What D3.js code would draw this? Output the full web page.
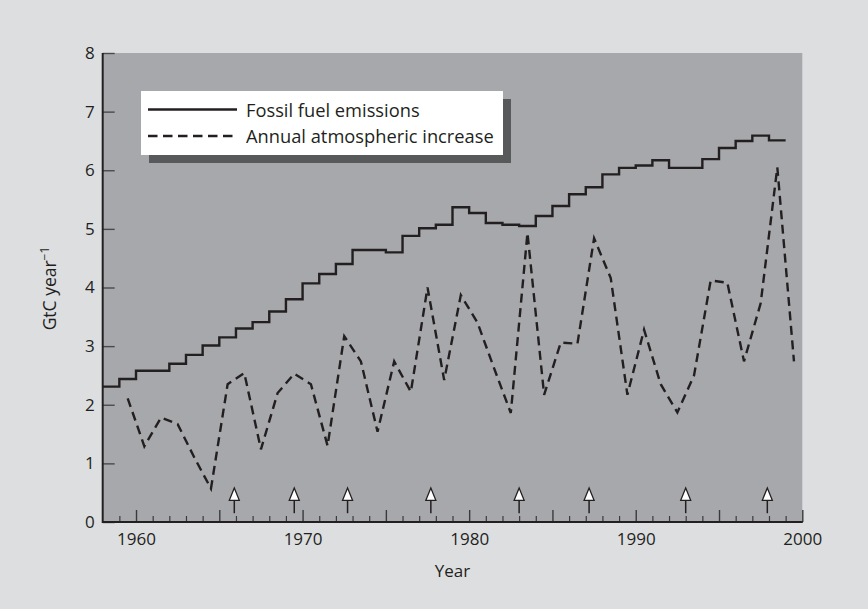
<!DOCTYPE html>
<html>
<head>
<meta charset="utf-8">
<script src="https://cdn.jsdelivr.net/npm/d3@7"></script>
<style>
  html, body { margin: 0; padding: 0; background: #dddee0; }
  svg { display: block; }
  text { font-family: "Open Sans", "Noto Sans", sans-serif; fill: #231f20; }
</style>
</head>
<body>
<svg id="chart" width="868" height="609"></svg>
<script>
// ---- Data ----
const emissionYears = d3.range(1958, 1999); // 1958..1998
const emissionValues = [2.31, 2.44, 2.58, 2.58, 2.70, 2.85, 3.01, 3.15, 3.30, 3.41,
  3.59, 3.80, 4.07, 4.23, 4.40, 4.64, 4.64, 4.60, 4.88, 5.01,
  5.07, 5.37, 5.27, 5.10, 5.07, 5.05, 5.22, 5.39, 5.59, 5.71,
  5.93, 6.04, 6.08, 6.17, 6.04, 6.04, 6.19, 6.38, 6.50, 6.59,
  6.51];
const increaseYears = d3.range(1959, 2000); // 1959..1999
const increaseValues = [2.11, 1.29, 1.78, 1.67, 1.10, 0.57, 2.35, 2.54, 1.24, 2.20,
  2.53, 2.35, 1.30, 3.17, 2.74, 1.54, 2.74, 2.22, 4.00, 2.42,
  3.87, 3.40, 2.62, 1.86, 4.93, 2.17, 3.06, 3.04, 4.84, 4.16,
  2.17, 3.28, 2.35, 1.87, 2.50, 4.12, 4.08, 2.74, 3.73, 6.05,
  2.74];
const elNinoYears = [1965.9, 1969.5, 1972.7, 1977.7, 1983.0, 1987.2, 1993.0, 1997.9];
const yTicks = [0, 1, 2, 3, 4, 5, 6, 7, 8];
const xLabelTicks = [1960, 1970, 1980, 1990, 2000];
const legendLabels = ["Fossil fuel emissions", "Annual atmospheric increase"];

// ---- Layout ----
const svg = d3.select("#chart");
const W = 868, H = 609;
const plot = { left: 102.7, right: 802.3, top: 53, bottom: 522 };
const ink = "#231f20";

svg.append("rect").attr("x", 0).attr("y", 0).attr("width", W).attr("height", H).attr("fill", "#dddee0");

const x = d3.scaleLinear().domain([1958, 2000]).range([plot.left, plot.right]);
const y = d3.scaleLinear().domain([0, 8]).range([plot.bottom, plot.top]);

svg.append("rect")
  .attr("x", plot.left).attr("y", plot.top)
  .attr("width", plot.right - plot.left).attr("height", plot.bottom - plot.top)
  .attr("fill", "#a7a8ab");

// ---- Axes ----
const xMinor = svg.append("g").attr("transform", `translate(0,${plot.bottom})`)
  .call(d3.axisTop(x).tickValues(d3.range(1959, 2000).filter(d => d % 5 !== 0)).tickSize(6).tickFormat(""));
xMinor.select(".domain").remove();
xMinor.selectAll("line").attr("stroke", "#3a3a3c").attr("stroke-width", 1.2);

const xMajor = svg.append("g").attr("transform", `translate(0,${plot.bottom})`)
  .call(d3.axisTop(x).tickValues(d3.range(1960, 2001, 5)).tickSize(12).tickFormat(""));
xMajor.select(".domain").remove();
xMajor.selectAll("line").attr("stroke", "#3a3a3c").attr("stroke-width", 1.4);

const xLab = svg.append("g").attr("transform", `translate(0,${plot.bottom})`)
  .call(d3.axisBottom(x).tickValues(xLabelTicks).tickSize(0).tickPadding(11).tickFormat(d3.format("d")));
xLab.select(".domain").remove();
xLab.selectAll("text").attr("font-size", 17).attr("fill", ink).style("font-family", "'Open Sans', sans-serif");

const yAx = svg.append("g").attr("transform", `translate(${plot.left},0)`)
  .call(d3.axisRight(y).tickValues(yTicks).tickSize(12).tickFormat(""));
yAx.select(".domain").remove();
yAx.selectAll("line").attr("stroke", "#4a4a4c").attr("stroke-width", 1.4);

const yLab = svg.append("g").attr("transform", `translate(${plot.left},0)`)
  .call(d3.axisLeft(y).tickValues(yTicks).tickSize(0).tickPadding(8).tickFormat(d3.format("d")));
yLab.select(".domain").remove();
yLab.selectAll("text").attr("font-size", 17).attr("fill", ink).style("font-family", "'Open Sans', sans-serif");

svg.append("line").attr("x1", plot.left).attr("x2", plot.right + 0.5)
  .attr("y1", plot.bottom).attr("y2", plot.bottom).attr("stroke", ink).attr("stroke-width", 2);
svg.append("line").attr("x1", plot.left).attr("x2", plot.left)
  .attr("y1", plot.top).attr("y2", plot.bottom + 1).attr("stroke", ink).attr("stroke-width", 2);

// ---- Series ----
const stepPts = emissionYears.map((yr, i) => [yr, emissionValues[i]]);
stepPts.push([emissionYears[emissionYears.length - 1] + 1, emissionValues[emissionValues.length - 1]]);
svg.append("path")
  .attr("d", d3.line().x(d => x(d[0])).y(d => y(d[1])).curve(d3.curveStepAfter)(stepPts))
  .attr("fill", "none").attr("stroke", ink).attr("stroke-width", 2.4);

const incPts = increaseYears.map((yr, i) => [yr + 0.5, increaseValues[i]]);
svg.append("path")
  .attr("d", d3.line().x(d => x(d[0])).y(d => y(d[1]))(incPts))
  .attr("fill", "none").attr("stroke", ink).attr("stroke-width", 2.4)
  .attr("stroke-dasharray", "9,5.5");

// ---- El Nino arrows ----
const arrowTip = 0.58, arrowBase = 0.37, arrowEnd = 0.15;
const ag = svg.append("g");
elNinoYears.forEach(yr => {
  ag.append("line").attr("x1", x(yr)).attr("x2", x(yr))
    .attr("y1", y(arrowBase)).attr("y2", y(arrowEnd))
    .attr("stroke", ink).attr("stroke-width", 1.5);
  ag.append("path")
    .attr("d", `M${x(yr)},${y(arrowTip)} L${x(yr) + 5},${y(arrowBase)} L${x(yr) - 5},${y(arrowBase)} Z`)
    .attr("fill", "#ffffff").attr("stroke", ink).attr("stroke-width", 1.3).attr("stroke-linejoin", "miter");
});

// ---- Axis titles ----
svg.append("text").attr("x", (plot.left + plot.right) / 2).attr("y", 577)
  .attr("text-anchor", "middle").attr("font-size", 17).text("Year");

const yt = svg.append("text")
  .attr("transform", `translate(56,${(plot.top + plot.bottom) / 2 + 1}) rotate(-90)`)
  .attr("text-anchor", "middle").attr("font-size", 17.5);
yt.append("tspan").text("GtC year");
yt.append("tspan").attr("dy", -7.5).attr("font-size", 12).text("−1");

// ---- Legend ----
const lg = { x: 141, y: 91, w: 362, h: 64, off: 8 };
svg.append("rect").attr("x", lg.x + lg.off).attr("y", lg.y + lg.off)
  .attr("width", lg.w).attr("height", lg.h).attr("fill", "#58595b");
svg.append("rect").attr("x", lg.x).attr("y", lg.y)
  .attr("width", lg.w).attr("height", lg.h).attr("fill", "#ffffff");

const legendStyles = [null, "9.5,5.5"];
legendLabels.forEach((lab, i) => {
  const ly = 109.5 + i * 26.5;
  const ln = svg.append("line").attr("x1", 148).attr("x2", 237).attr("y1", ly).attr("y2", ly)
    .attr("stroke", ink).attr("stroke-width", 2.4);
  if (legendStyles[i]) ln.attr("stroke-dasharray", legendStyles[i]);
  svg.append("text").attr("x", 246).attr("y", ly + 7).attr("font-size", 18.3).text(lab);
});
</script>
</body>
</html>
